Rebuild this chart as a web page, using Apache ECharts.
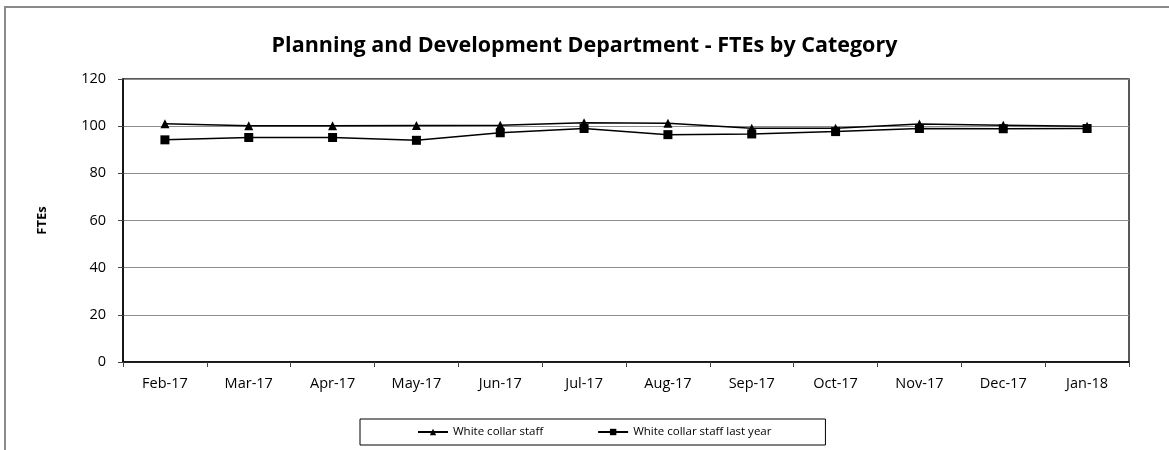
<!DOCTYPE html>
<html>
<head>
<meta charset="utf-8">
<script src="https://cdn.jsdelivr.net/npm/echarts@6/dist/echarts.min.js"></script>
<style>
  html, body { margin: 0; padding: 0; background: #ffffff; }
  #chart { width: 1169px; height: 450px; }
</style>
</head>
<body>
<div id="chart"></div>
<script>
// Monthly FTE counts, current year vs. previous year
const months = ['Feb-17', 'Mar-17', 'Apr-17', 'May-17', 'Jun-17', 'Jul-17',
                'Aug-17', 'Sep-17', 'Oct-17', 'Nov-17', 'Dec-17', 'Jan-18'];
const whiteCollar = [101.0, 100.2, 100.2, 100.3, 100.4, 101.4, 101.2, 99.1, 99.1, 100.9, 100.4, 100.0];
const whiteCollarLastYear = [94.2, 95.2, 95.2, 94.0, 97.2, 99.0, 96.4, 96.7, 97.7, 99.0, 98.9, 99.0];
const yTicks = { min: 0, max: 120, interval: 20 };

const font = '"Open Sans", Lato, "DejaVu Sans", sans-serif';

const chart = echarts.init(document.getElementById('chart'), null, { renderer: 'canvas' });

chart.setOption({
  animation: false,
  backgroundColor: '#ffffff',
  graphic: [{
    type: 'rect',
    shape: { x: 5, y: 7, width: 1200, height: 500 },
    style: { fill: 'none', stroke: '#8a8a8a', lineWidth: 2 },
    silent: true, z: -1
  }],
  title: {
    text: 'Planning and Development Department - FTEs by Category',
    left: 'center',
    top: 30,
    textStyle: { fontFamily: font, fontWeight: 'bold', fontSize: 21.5, color: '#000' }
  },
  grid: {
    left: 123, right: 40, top: 79, bottom: 88,
    show: true, borderColor: '#222', borderWidth: 1.5,
    containLabel: false
  },
  legend: {
    bottom: 5,
    left: 360,
    padding: [7, 54, 7, 57],
    borderColor: '#000',
    borderWidth: 1,
    itemGap: 54,
    itemWidth: 30,
    itemHeight: 8,
    textStyle: { fontFamily: font, fontSize: 11.5, color: '#000' },
    data: ['White collar staff', 'White collar staff last year']
  },
  xAxis: {
    type: 'category',
    data: months,
    boundaryGap: true,
    axisLine: { lineStyle: { color: '#000', width: 1.5 } },
    axisTick: { show: true, length: 5, lineStyle: { color: '#444' } },
    axisLabel: { fontFamily: font, fontSize: 14.5, color: '#000', margin: 14 }
  },
  yAxis: {
    type: 'value',
    min: yTicks.min, max: yTicks.max, interval: yTicks.interval,
    name: 'FTEs',
    nameLocation: 'middle',
    nameGap: 74,
    nameRotate: 90,
    nameTextStyle: { fontFamily: font, fontWeight: 'bold', fontSize: 13, color: '#000' },
    axisLine: { show: true, lineStyle: { color: '#000', width: 1.5 } },
    axisTick: { show: true, length: 5, lineStyle: { color: '#444' } },
    axisLabel: { fontFamily: font, fontSize: 14.5, color: '#000', margin: 17 },
    splitLine: { show: true, lineStyle: { color: '#8c8c8c', width: 1 } }
  },
  series: [
    {
      name: 'White collar staff',
      type: 'line',
      data: whiteCollar,
      symbol: 'triangle',
      symbolSize: 9,
      itemStyle: { color: '#000' },
      lineStyle: { color: '#000', width: 1.5 },
      z: 3
    },
    {
      name: 'White collar staff last year',
      type: 'line',
      data: whiteCollarLastYear,
      symbol: 'rect',
      symbolSize: 9,
      itemStyle: { color: '#000' },
      lineStyle: { color: '#000', width: 1.5 },
      z: 2
    }
  ]
});
</script>
</body>
</html>
